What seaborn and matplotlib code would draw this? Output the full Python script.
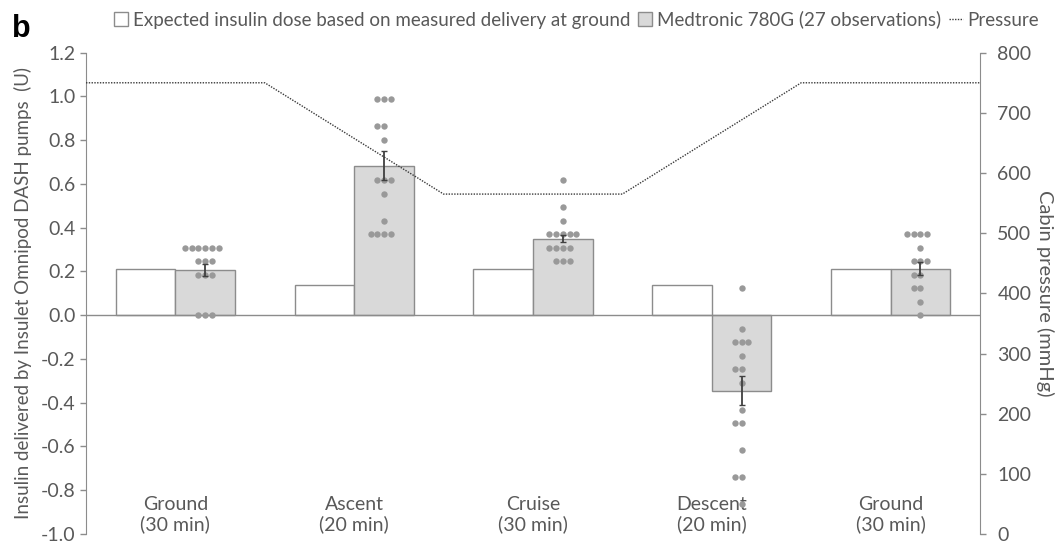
import numpy as np
import pandas as pd
import matplotlib
matplotlib.use("Agg")
import matplotlib.pyplot as plt
import matplotlib.transforms as mtransforms
from matplotlib.patches import Patch
from matplotlib.lines import Line2D
from matplotlib.ticker import FormatStrFormatter
import seaborn as sns

# ---------------- data ----------------
phase_labels = ["Ground\n(30 min)", "Ascent\n(20 min)", "Cruise\n(30 min)",
                "Descent\n(20 min)", "Ground\n(30 min)"]
phase_ids = ["P1", "P2", "P3", "P4", "P5"]

series_expected = "Expected insulin dose based on measured delivery at ground"
series_measured = "Medtronic 780G (27 observations)"

expected_dose = [0.21, 0.14, 0.21, 0.14, 0.21]
measured_mean = [0.207, 0.684, 0.350, -0.345, 0.213]
measured_sem = [0.026, 0.067, 0.016, 0.067, 0.030]

obs_ground1 = [0.309, 0.309, 0.309, 0.309, 0.309, 0.309, 0.247, 0.247, 0.247,
               0.185, 0.185, 0.185, 0.0, 0.0, 0.0]
obs_ascent = [0.988, 0.988, 0.988, 0.864, 0.864, 0.802, 0.617, 0.617, 0.617,
              0.556, 0.432, 0.370, 0.370, 0.370, 0.370]
obs_cruise = [0.617, 0.494, 0.432, 0.370, 0.370, 0.370, 0.370, 0.370, 0.309,
              0.309, 0.309, 0.309, 0.247, 0.247, 0.247]
obs_descent = [0.123, -0.062, -0.123, -0.123, -0.123, -0.185, -0.247, -0.247,
               -0.309, -0.432, -0.494, -0.494, -0.617, -0.741, -0.741, -0.864]
obs_ground2 = [0.370, 0.370, 0.370, 0.370, 0.309, 0.247, 0.247, 0.247, 0.185,
               0.185, 0.123, 0.123, 0.062, 0.0]

pressure_boundary = [0, 1, 2, 3, 4, 5]          # phase boundaries
pressure_mmHg = [750, 750, 565, 565, 750, 750]

left_ticks = [-1.0, -0.8, -0.6, -0.4, -0.2, 0.0, 0.2, 0.4, 0.6, 0.8, 1.0, 1.2]
right_ticks = [0, 100, 200, 300, 400, 500, 600, 700, 800]

# ---------------- tables ----------------
bars_df = pd.DataFrame({
    "phase": phase_ids * 2,
    "series": [series_expected] * 5 + [series_measured] * 5,
    "value": expected_dose + measured_mean,
})
obs_lists = [obs_ground1, obs_ascent, obs_cruise, obs_descent, obs_ground2]
obs_df = pd.DataFrame({
    "phase": [pid for pid, lst in zip(phase_ids, obs_lists) for _ in lst],
    "value": [v for lst in obs_lists for v in lst],
})

# ---------------- style ----------------
sns.set_style("white")
plt.rcParams["font.family"] = ["Lato", "DejaVu Sans"]
text_col = "#595959"
edge_col = "#8c8c8c"
bar_gray = "#d9d9d9"
dot_col = "#999999"
line_col = "#3a3a3a"
tick_fs = 14
title_fs = 13.5

fig = plt.figure(figsize=(10.62, 5.43), dpi=100)
ax = fig.add_axes([86 / 1062, 9 / 543, 894 / 1062, 481.3 / 543])

sns.barplot(data=bars_df, x="phase", y="value", hue="series", order=phase_ids,
            hue_order=[series_expected, series_measured],
            palette={series_expected: "white", series_measured: bar_gray},
            saturation=1, width=2 / 3, gap=0, edgecolor=edge_col, linewidth=1.0,
            errorbar=None, legend=False, ax=ax, zorder=2)

meas_patches = ax.containers[1]
meas_x = [p.get_x() + p.get_width() / 2 for p in meas_patches]
dodge_offset = meas_x[0] - 0.0

n_before = len(ax.collections)
sns.swarmplot(data=obs_df, x="phase", y="value", order=phase_ids, color=dot_col,
              size=4.6, ax=ax, zorder=3, warn_thresh=1.0)
for coll in ax.collections[n_before:]:
    coll.set_offset_transform(mtransforms.Affine2D().translate(dodge_offset, 0)
                              + ax.transData)

ax.errorbar(meas_x, measured_mean, yerr=measured_sem, fmt="none",
            ecolor="#404040", elinewidth=1.3, capsize=2.2, capthick=1.0, zorder=4)

ax.axhline(0, color=edge_col, lw=1.0, zorder=2.5)

ax.set_xlim(-0.5, 4.5)
ax.set_ylim(-1.0, 1.2)
ax.set_yticks(left_ticks)
ax.yaxis.set_major_formatter(FormatStrFormatter("%.1f"))
ax.set_xticks(range(len(phase_labels)))
ax.set_xticklabels(phase_labels, color=text_col, fontsize=tick_fs, linespacing=1.1)
ax.tick_params(axis="x", length=0, pad=-27)
ax.tick_params(axis="y", length=4.5, width=1, color=edge_col, labelcolor=text_col,
               labelsize=tick_fs, pad=3)
ax.set_xlabel("")
ax.set_ylabel("Insulin delivered by Insulet Omnipod DASH pumps  (U)",
              color=text_col, fontsize=title_fs, labelpad=6)
for s in ["top", "right", "bottom"]:
    ax.spines[s].set_visible(False)
ax.spines["left"].set_color(edge_col)

# pressure on secondary axis
ax2 = ax.twinx()
sns.lineplot(x=np.array(pressure_boundary) - 0.5, y=pressure_mmHg, ax=ax2,
             color=line_col, lw=1.0, linestyle=(0, (1, 1)))
ax2.set_ylim(0, 800)
ax2.set_yticks(right_ticks)
ax2.tick_params(axis="y", length=4.5, width=1, color=edge_col, labelcolor=text_col,
                labelsize=tick_fs, pad=8)
ax2.set_ylabel("Cabin pressure (mmHg)", color=text_col, fontsize=14.5,
               rotation=270, labelpad=16)
for s in ["top", "left", "bottom"]:
    ax2.spines[s].set_visible(False)
ax2.spines["right"].set_color(edge_col)
ax2.set_xlim(-0.5, 4.5)

# legend
handles = [Patch(facecolor="white", edgecolor=edge_col, lw=1.0),
           Patch(facecolor=bar_gray, edgecolor=edge_col, lw=1.0),
           Line2D([], [], color=line_col, lw=1.0, ls=(0, (1, 1)))]
fig.legend(handles, [series_expected, series_measured, "Pressure"],
           loc="center", bbox_to_anchor=(0.543, 0.964), ncol=3, frameon=False,
           fontsize=title_fs, handlelength=0.75, handleheight=0.75,
           handletextpad=0.25, columnspacing=0.4, labelcolor=text_col)

fig.text(0.011, 0.975, "b", fontsize=22, fontweight="bold", va="top", ha="left",
         family=["Liberation Sans", "DejaVu Sans"], color="black")

fig.savefig("out.png", dpi=100)
